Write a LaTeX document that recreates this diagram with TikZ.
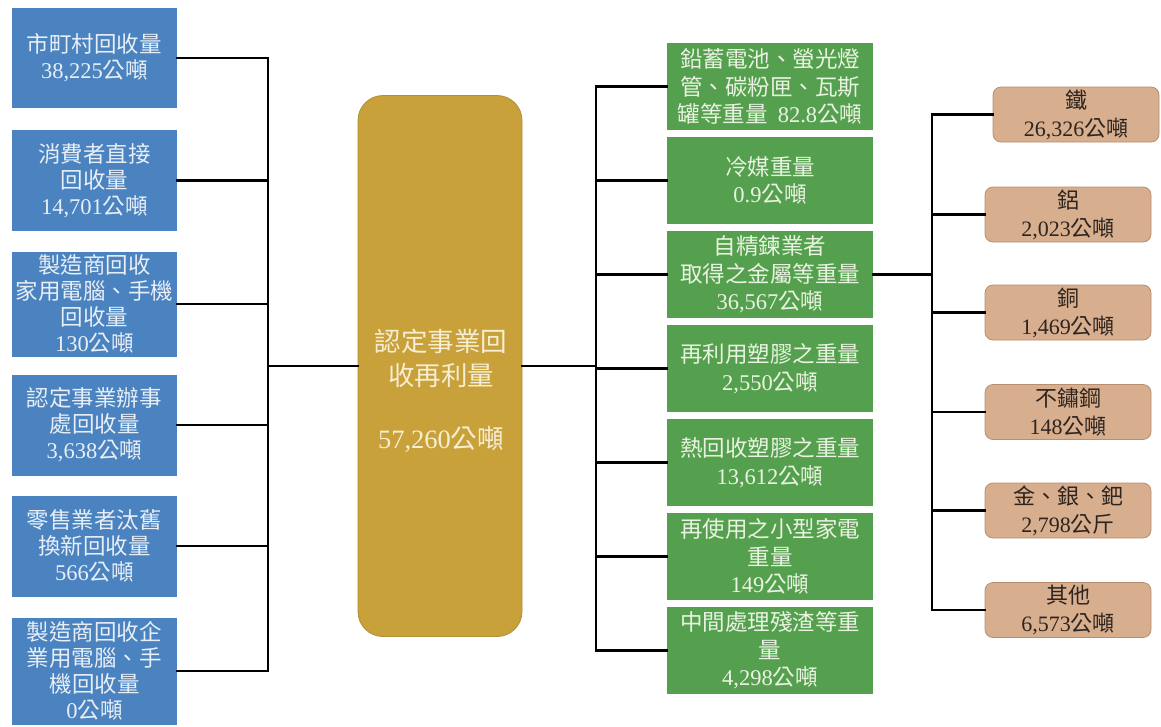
\documentclass[tikz,border=0pt]{standalone}
\usepackage{fontspec}
\setmainfont{Liberation Serif}
\newfontfamily\cjk{Noto Sans CJK TC}
\newcommand\nm[1]{{\rmfamily #1}}
\definecolor{cblue}{HTML}{4A83BF}
\definecolor{tblue}{HTML}{E8EEF6}
\definecolor{cgreen}{HTML}{55A04E}
\definecolor{tgreen}{HTML}{EAF3E2}
\definecolor{cgold}{HTML}{C9A13A}
\definecolor{tgold}{HTML}{F6EED2}
\definecolor{cbrown}{HTML}{D7AE8E}
\definecolor{dbrown}{HTML}{B98E70}
\definecolor{tbrown}{HTML}{2E2520}
\begin{document}
\begin{tikzpicture}[x=1pt,y=-1pt,
  bluebox/.style={rectangle, fill=cblue, text=tblue, minimum width=165pt, inner sep=0pt, align=center, font=\cjk\fontsize{22.5}{26}\selectfont},
  greenbox/.style={rectangle, fill=cgreen, text=tgreen, minimum width=206pt, minimum height=87pt, inner sep=0pt, align=center, font=\cjk\fontsize{22.5}{27.5}\selectfont},
  brownbox/.style={rectangle, rounded corners=8pt, fill=cbrown, draw=dbrown, line width=0.8pt, text=tbrown, minimum width=166pt, minimum height=55pt, inner sep=0pt, align=center, font=\cjk\fontsize{22}{28}\selectfont},
  goldbox/.style={rectangle, rounded corners=25pt, fill=cgold, draw=cgold!88!black, line width=0.8pt, minimum width=164pt, minimum height=541pt, inner sep=0pt},
  goldtext/.style={text=tgold, align=center, inner sep=0pt, font=\cjk\fontsize{26.5}{34}\selectfont},
  conn/.style={draw=black, line width=2.2pt, line cap=rect}]
\useasboundingbox (0,0) rectangle (1161,726);
% left column
\node[bluebox, minimum height=100pt] (b1) at (94.5,58) {市町村回收量\\\nm{38,225}公噸};
\node[bluebox, minimum height=101pt] (b2) at (94.5,180.5) {消費者直接\\回收量\\\nm{14,701}公噸};
\node[bluebox, minimum height=105pt] (b3) at (94.5,304) {製造商回收\\家用電腦、手機\\回收量\\\nm{130}公噸};
\node[bluebox, minimum height=101pt] (b4) at (94.5,425) {認定事業辦事\\處回收量\\\nm{3,638}公噸};
\node[bluebox, minimum height=101pt] (b5) at (94.5,546) {零售業者汰舊\\換新回收量\\\nm{566}公噸};
\node[bluebox, minimum height=107pt] (b6) at (94.5,671) {製造商回收企\\業用電腦、手\\機回收量\\\nm{0}公噸};
% centre
\node[goldbox] (cen) at (440,366) {};
\node[goldtext] (centxt) at (441,391) {認定事業回\\收再利量\\[29pt]\nm{57,260}公噸};
% green column
\node[greenbox] (g1) at (770,86.5) {鉛蓄電池、螢光燈\\管、碳粉匣、瓦斯\\罐等重量\ \ \nm{82.8}公噸};
\node[greenbox] (g2) at (770,180.5) {冷媒重量\\\nm{0.9}公噸};
\node[greenbox] (g3) at (770,274.5) {自精鍊業者\\取得之金屬等重量\\\nm{36,567}公噸};
\node[greenbox] (g4) at (770,368.5) {再利用塑膠之重量\\\nm{2,550}公噸};
\node[greenbox] (g5) at (770,462.5) {熱回收塑膠之重量\\\nm{13,612}公噸};
\node[greenbox] (g6) at (770,556.5) {再使用之小型家電\\重量\\\nm{149}公噸};
\node[greenbox] (g7) at (770,650.5) {中間處理殘渣等重\\量\\\nm{4,298}公噸};
% brown column
\node[brownbox] (m1) at (1076,114.5) {鐵\\\nm{26,326}公噸};
\node[brownbox] (m2) at (1068,214.5) {鋁\\\nm{2,023}公噸};
\node[brownbox] (m3) at (1068,312.5) {銅\\\nm{1,469}公噸};
\node[brownbox] (m4) at (1068,412) {不鏽鋼\\\nm{148}公噸};
\node[brownbox] (m5) at (1068,510.5) {金、銀、鈀\\\nm{2,798}公斤};
\node[brownbox] (m6) at (1068,610) {其他\\\nm{6,573}公噸};
% buses
\coordinate (lbus) at (268,0);
\coordinate (rbus) at (596,0);
\coordinate (mbus) at (932,0);
% left connectors
\foreach \b in {b1,b2,b3,b4,b5,b6}{\draw[conn] (\b.east) -- (\b.east -| lbus);}
\draw[conn] (b1.east -| lbus) -- (b6.east -| lbus);
\draw[conn] (cen.west -| lbus) -- (cen.west);
% right connectors
\draw[conn] (cen.east) -- (cen.east -| rbus);
\draw[conn] (g1.west -| rbus) -- (g7.west -| rbus);
\foreach \g in {g1,g2,g3,g4,g5,g6,g7}{\draw[conn] (\g.west -| rbus) -- (\g.west);}
% metal connectors
\draw[conn] (g3.east) -- (g3.east -| mbus);
\draw[conn] (m1.west -| mbus) -- (m6.west -| mbus);
\foreach \m in {m1,m2,m3,m4,m5,m6}{\draw[conn] (\m.west -| mbus) -- (\m.west);}
\end{tikzpicture}
\end{document}
